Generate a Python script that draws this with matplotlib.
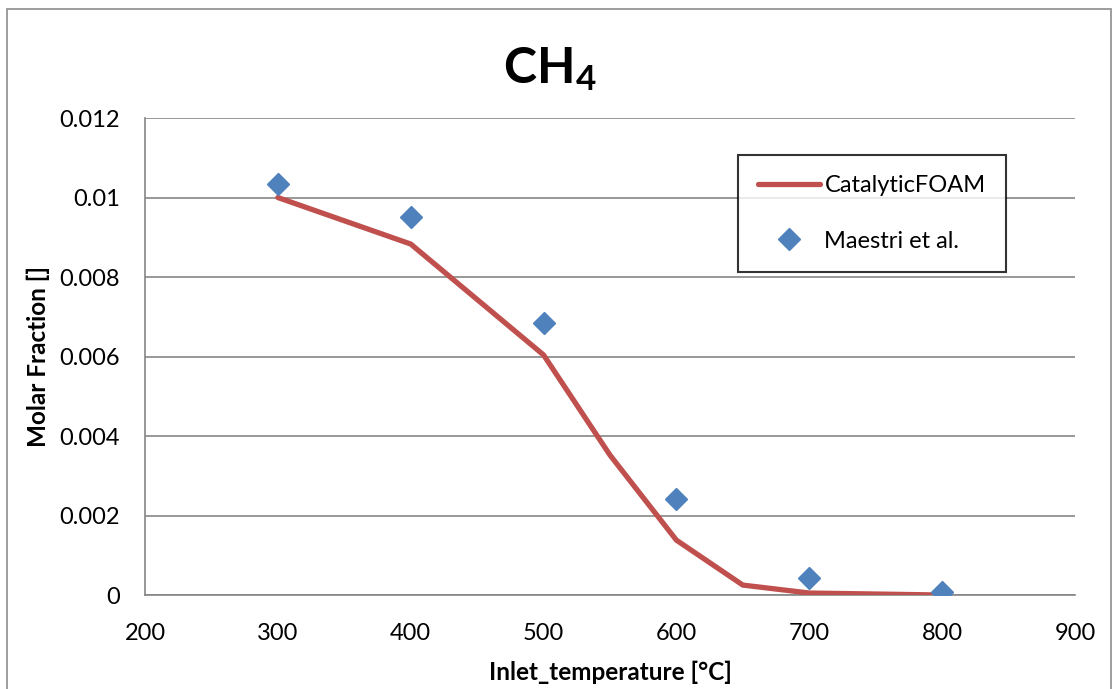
import numpy as np
import matplotlib.pyplot as plt
from matplotlib.patches import Rectangle

plt.rcParams['font.family'] = ['Lato', 'DejaVu Sans']
plt.rcParams['mathtext.fontset'] = 'custom'
plt.rcParams['mathtext.rm'] = 'Lato'
plt.rcParams['mathtext.bf'] = 'Lato:bold'

# simulated molar fraction (CatalyticFOAM)
sim_T = [300, 400, 500, 550, 600, 650, 700, 800]
sim_x = [0.0100, 0.00883, 0.00604, 0.00352, 0.00138, 0.00025, 0.00005, 0.0]

# experimental points (Maestri et al.)
exp_T = [300, 400, 500, 600, 700, 800]
exp_x = [0.01034, 0.00951, 0.00684, 0.00242, 0.00043, 0.00008]

fig = plt.figure(figsize=(11.18, 6.89), dpi=100)
ax = fig.add_axes([0.1297, 0.1364, 0.8318, 0.6923])

# outer chart frame
fig.patches.append(Rectangle((7/1118, -0.05), 1104/1118, 1.05 - 9/689,
                             transform=fig.transFigure, fill=False,
                             edgecolor='#8c8c8c', linewidth=1.2))

ax.plot(sim_T, sim_x, color='#C0504D', linewidth=3.8, label='CatalyticFOAM',
        solid_capstyle='round', zorder=3)
ax.plot(exp_T, exp_x, linestyle='none', marker='D', markersize=11,
        color='#4F81BD', label='Maestri et al.', zorder=4)

ax.set_xlim(200, 900)
ax.set_ylim(0, 0.012)
ax.set_xticks(np.arange(200, 901, 100))
ax.set_yticks([0, 0.002, 0.004, 0.006, 0.008, 0.01, 0.012])
ax.set_yticklabels(['0', '0.002', '0.004', '0.006', '0.008', '0.01', '0.012'])
ax.tick_params(length=0, labelsize=17)
ax.tick_params(axis='x', pad=20)
ax.tick_params(axis='y', pad=18)
ax.grid(axis='y', color='#868686', linewidth=1.2)
ax.set_axisbelow(True)
for s in ['top', 'right']:
    ax.spines[s].set_visible(False)
for s in ['left', 'bottom']:
    ax.spines[s].set_color('#868686')
    ax.spines[s].set_linewidth(1.2)

ax.set_xlabel('Inlet_temperature [°C]', fontsize=17.5, fontweight='bold', labelpad=12)
ax.set_ylabel('Molar Fraction []', fontsize=17.5, fontweight='bold', labelpad=7)
fig.text(0.492, 0.9, r'$\mathbf{CH_4}$', fontsize=36, ha='center', va='center')

leg = ax.legend(loc='upper left', bbox_to_anchor=(0.638, 0.922), fontsize=17,
                frameon=True, fancybox=False, edgecolor='black',
                borderpad=0.85, labelspacing=1.45, handlelength=2.6,
                handletextpad=0.2, borderaxespad=0)
leg.get_frame().set_linewidth(1.5)

fig.savefig('out.png', dpi=100)
